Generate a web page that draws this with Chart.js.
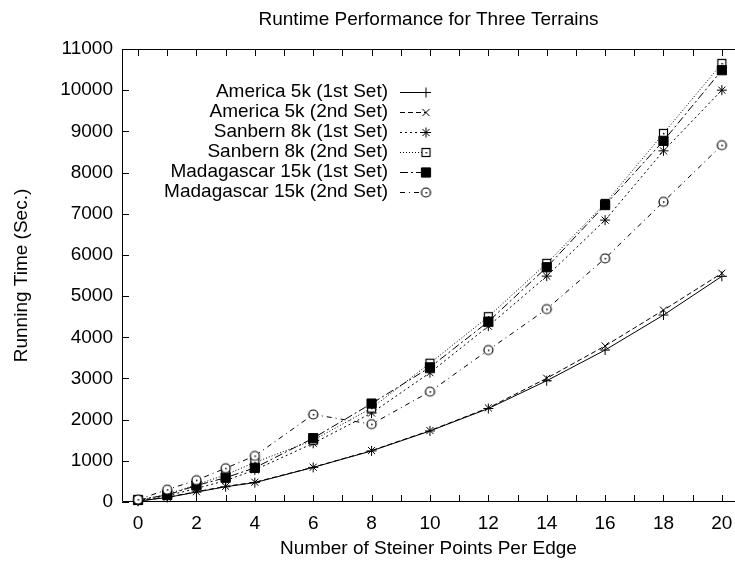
<!DOCTYPE html>
<html>
<head>
<meta charset="utf-8">
<script src="https://cdn.jsdelivr.net/npm/chart.js@4.4.1/dist/chart.umd.min.js"></script>
<style>
  html, body { margin: 0; padding: 0; background: #fff; }
  #wrap { width: 735px; height: 564px; }
</style>
</head>
<body>
<div id="wrap"><canvas id="chart" width="735" height="564"></canvas></div>
<script>
// Steiner points per edge (x) and running times in seconds (y)
const steinerPoints = [0, 1, 2, 3, 4, 6, 8, 10, 12, 14, 16, 18, 20];
const america1st    = [20, 110, 240, 370, 470, 840, 1240, 1725, 2270, 2945, 3690, 4540, 5480];
const america2nd    = [25, 115, 250, 380, 480, 845, 1250, 1735, 2285, 3005, 3790, 4660, 5555];
const sanbern1st    = [30, 150, 330, 520, 780, 1425, 2160, 3140, 4270, 5485, 6845, 8527, 10000];
const sanbern2nd    = [40, 190, 420, 660, 960, 1500, 2280, 3370, 4500, 5795, 7250, 8950, 10650];
const madagascar1st = [50, 170, 400, 590, 830, 1550, 2390, 3270, 4380, 5700, 7210, 8770, 10485];
const madagascar2nd = [60, 300, 530, 820, 1120, 2125, 1890, 2680, 3690, 4685, 5915, 7290, 8665];

const seriesNames = [
  'America 5k (1st Set)', 'America 5k (2nd Set)',
  'Sanbern 8k (1st Set)', 'Sanbern 8k (2nd Set)',
  'Madagascar 15k (1st Set)', 'Madagascar 15k (2nd Set)'
];
const seriesValues = [america1st, america2nd, sanbern1st, sanbern2nd, madagascar1st, madagascar2nd];

const xTickValues = [0, 1, 2, 3, 4, 5, 6, 7, 8, 9, 10, 11, 12, 13, 14, 15, 16, 17, 18, 19, 20];
const yTickValues = [0, 1000, 2000, 3000, 4000, 5000, 6000, 7000, 8000, 9000, 10000, 11000];

const chartTitle = 'Runtime Performance for Three Terrains';
const xTitle = 'Number of Steiner Points Per Edge';
const yTitle = 'Running Time (Sec.)';

const FONT = '"Liberation Sans", Arial, Helvetica, sans-serif';
const FONT_SIZE = 19;

// Hollow markers with a centre dot, drawn once onto small canvases
function hollowMarker(shape) {
  const c = document.createElement('canvas');
  c.width = 13; c.height = 13;
  const g = c.getContext('2d');
  g.strokeStyle = '#000';
  g.lineWidth = 1.2;
  g.fillStyle = '#fff';
  if (shape === 'square') {
    g.fillRect(2, 2, 9, 9);
    g.strokeRect(2.5, 2.5, 8, 8);
  } else {
    g.beginPath();
    g.arc(6.5, 6.5, 4.5, 0, Math.PI * 2);
    g.fill();
    g.stroke();
  }
  g.fillStyle = '#000';
  g.fillRect(6, 6, 1.5, 1.5);
  return c;
}

const styles = [
  { dash: [],            point: 'cross',    radius: 5,   fill: '#000' },
  { dash: [5, 3],        point: 'crossRot', radius: 5,   fill: '#000' },
  { dash: [2, 3],        point: 'star',     radius: 5,   fill: '#000' },
  { dash: [1, 2],        point: hollowMarker('square'), radius: 5, fill: '#fff' },
  { dash: [8, 3, 2, 3],  point: 'rect',     radius: 6.5, fill: '#000' },
  { dash: [5, 4, 1, 4],  point: hollowMarker('circle'), radius: 5, fill: '#fff' }
];

const datasets = seriesNames.map((name, i) => ({
  label: name,
  data: steinerPoints.map((x, j) => ({ x: x, y: seriesValues[i][j] })),
  borderColor: '#000',
  borderWidth: 1,
  borderDash: styles[i].dash,
  pointStyle: styles[i].point,
  pointRadius: styles[i].radius,
  pointBorderWidth: 1,
  pointBorderColor: '#000',
  pointBackgroundColor: styles[i].fill,
  fill: false,
  tension: 0,
  clip: false,
  order: seriesNames.length - i
}));

// Frame with inward tick marks on left, bottom and top
const framePlugin = {
  id: 'frame',
  beforeDatasetsDraw(chart) {
    const { ctx, chartArea: a, scales: { x, y } } = chart;
    const len = 7;
    ctx.save();
    ctx.strokeStyle = '#000';
    ctx.lineWidth = 1;
    ctx.setLineDash([]);
    ctx.beginPath();
    ctx.moveTo(a.right, a.top + 0.5);
    ctx.lineTo(a.left + 0.5, a.top + 0.5);
    ctx.lineTo(a.left + 0.5, a.bottom - 0.5);
    ctx.lineTo(a.right, a.bottom - 0.5);
    xTickValues.forEach(v => {
      const px = Math.round(x.getPixelForValue(v)) + 0.5;
      ctx.moveTo(px, a.bottom);
      ctx.lineTo(px, a.bottom - len);
      ctx.moveTo(px, a.top);
      ctx.lineTo(px, a.top + len);
    });
    yTickValues.forEach(v => {
      const py = Math.round(y.getPixelForValue(v)) + 0.5;
      ctx.moveTo(a.left, py);
      ctx.lineTo(a.left + len, py);
    });
    ctx.stroke();
    ctx.restore();
  }
};

// Key: right-aligned names followed by a line sample and marker
const keyPlugin = {
  id: 'key',
  afterDatasetsDraw(chart) {
    const { ctx } = chart;
    const textRight = 388, lineStart = 400, lineEnd = 426, top = 92, step = 20;
    ctx.save();
    ctx.font = FONT_SIZE + 'px ' + FONT;
    ctx.textAlign = 'right';
    ctx.textBaseline = 'middle';
    chart.data.datasets.forEach((ds, i) => {
      const yy = top + i * step;
      ctx.fillStyle = '#000';
      ctx.fillText(ds.label, textRight, yy);
      ctx.strokeStyle = '#000';
      ctx.lineWidth = 1;
      ctx.setLineDash(ds.borderDash);
      ctx.beginPath();
      ctx.moveTo(lineStart, yy + 0.5);
      ctx.lineTo(lineEnd, yy + 0.5);
      ctx.stroke();
      ctx.setLineDash([]);
      ctx.fillStyle = ds.pointBackgroundColor;
      Chart.helpers.drawPoint(ctx, {
        pointStyle: ds.pointStyle, radius: ds.pointRadius, rotation: 0, borderWidth: 1
      }, lineEnd, yy + 0.5);
    });
    ctx.restore();
  }
};

const baseFont = { family: FONT, size: FONT_SIZE, weight: 'normal' };

new Chart(document.getElementById('chart'), {
  type: 'line',
  data: { datasets: datasets },
  options: {
    responsive: false,
    animation: false,
    devicePixelRatio: 1,
    layout: { padding: 0, autoPadding: false },
    plugins: {
      legend: { display: false },
      tooltip: { enabled: false },
      title: {
        display: true,
        text: chartTitle,
        fullSize: false,
        color: '#000',
        font: baseFont,
        padding: { top: 8.6, bottom: 17.6 }
      }
    },
    scales: {
      x: {
        type: 'linear',
        min: -0.55,
        max: 20.45,
        afterBuildTicks: s => { s.ticks = xTickValues.map(v => ({ value: v })); },
        afterFit: s => { s.height = 62; s.paddingLeft = 0; s.paddingRight = 0; },
        grid: { display: false, drawTicks: false },
        border: { display: false },
        ticks: {
          color: '#000',
          font: baseFont,
          padding: 10.6,
          maxRotation: 0,
          autoSkip: false,
          callback: v => (v % 2 === 0 ? String(v) : '')
        },
        title: {
          display: true,
          text: xTitle,
          color: '#000',
          font: baseFont,
          padding: { top: 0, bottom: 3.6 }
        }
      },
      y: {
        type: 'linear',
        min: 0,
        max: 11000,
        afterBuildTicks: s => { s.ticks = yTickValues.map(v => ({ value: v })); },
        afterFit: s => { s.width = 122; s.paddingTop = 0; s.paddingBottom = 0; },
        grid: { display: false, drawTicks: false },
        border: { display: false },
        ticks: {
          color: '#000',
          font: baseFont,
          padding: 9,
          callback: v => String(v)
        },
        title: {
          display: true,
          text: yTitle,
          color: '#000',
          font: baseFont,
          padding: { top: 10.6, bottom: 0 }
        }
      }
    }
  },
  plugins: [framePlugin, keyPlugin]
});
</script>
</body>
</html>
